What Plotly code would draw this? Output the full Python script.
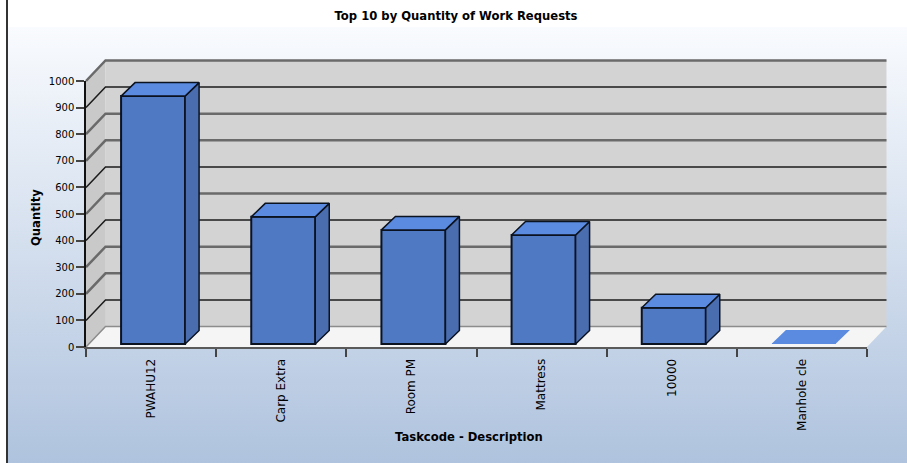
import plotly.graph_objects as go

# Chart data
categories = ["PWAHU12", "Carp Extra", "Room PM", "Mattress", "10000", "Manhole cle"]
quantities = [932, 478, 429, 410, 136, 2]
y_ticks = [0, 100, 200, 300, 400, 500, 600, 700, 800, 900, 1000]
dark_grid = [100, 400, 600, 900]

# Figure size and the front plane of the oblique box, in pixels
W, H = 907, 463
LEFT, RIGHT, BASE, TOP = 86, 867, 347, 81
n = len(categories)
PX_X = (RIGHT - LEFT) / n
PX_Y = (BASE - TOP) / 1000

# Oblique depth offsets, converted from pixels to axis units
WALL_DX, WALL_DY = 19.5 / PX_X, 20.5 / PX_Y
BAR_DX, BAR_DY = 14 / PX_X, 13.5 / PX_Y
BAR_SHIFT_X, BAR_SHIFT_Y = 2 / PX_X, 3 / PX_Y
BAR_WIDTH = 64 / PX_X

FRONT = "#4f79c2"
SIDE = "#4a6db0"
CAP = "#5b8be0"
OUTLINE = "#0b1220"

# The lower full-page subplot shares the scale of the chart axes,
# so the backdrop and walls sit behind the bars in the same units.
page_x = [-LEFT / PX_X, (W - LEFT) / PX_X]
page_y = [-(H - BASE) / PX_Y, BASE / PX_Y]
band_left = (8 - LEFT) / PX_X
border_x = (7 - LEFT) / PX_X
band_top = (BASE - 27) / PX_Y

fig = go.Figure()


def polygon(xs, ys, fill, axes=("x", "y"), line_color=None, line_width=0):
    fig.add_trace(go.Scatter(
        x=xs, y=ys, mode="lines", fill="toself", fillcolor=fill,
        line=dict(color=line_color or fill, width=line_width),
        cliponaxis=False, xaxis=axes[0], yaxis=axes[1],
        hoverinfo="skip", showlegend=False,
    ))


def line(xs, ys, color, width):
    fig.add_trace(go.Scatter(
        x=xs, y=ys, mode="lines", line=dict(color=color, width=width),
        xaxis="x", yaxis="y", hoverinfo="skip", showlegend=False,
    ))


# Page backdrop
fig.add_trace(go.Scatter(
    x=[band_left, page_x[1], page_x[1], band_left, band_left],
    y=[band_top, band_top, page_y[0], page_y[0], band_top],
    mode="none", fill="toself",
    fillgradient=dict(type="vertical", colorscale=[[0, "#afc3de"], [1, "#f9fbfe"]]),
    xaxis="x", yaxis="y", hoverinfo="skip", showlegend=False,
))
line([border_x, border_x], page_y, "#333333", 2)

# Box walls and floor
polygon([0, WALL_DX, WALL_DX, 0, 0],
        [0, WALL_DY, 1000 + WALL_DY, 1000, 0], "#c9c9c9")
polygon([WALL_DX, n + WALL_DX, n + WALL_DX, WALL_DX, WALL_DX],
        [WALL_DY, WALL_DY, 1000 + WALL_DY, 1000 + WALL_DY, WALL_DY], "#d3d3d3")
polygon([0, n, n + WALL_DX, WALL_DX, 0],
        [0, 0, WALL_DY, WALL_DY, 0], "#f5f5f5")

# Gridlines run along the side wall and across the back wall
for tick in y_ticks:
    if tick in dark_grid:
        color, width = "#1c1c1c", 1.5
    elif tick == 0:
        color, width = "#8c8c8c", 1.5
    else:
        color, width = "#6a6a6a", 2.5
    line([0, WALL_DX, n + WALL_DX],
         [tick, tick + WALL_DY, tick + WALL_DY], color, width)

# Front faces of the bars
centers = [i + 0.5 + BAR_SHIFT_X for i in range(n)]
fig.add_trace(go.Bar(
    x=centers, y=quantities, base=BAR_SHIFT_Y, width=BAR_WIDTH,
    customdata=categories,
    marker=dict(
        color=[FRONT] * (n - 1) + [CAP],
        line=dict(color=OUTLINE, width=[2] * (n - 1) + [0]),
    ),
    xaxis="x2", yaxis="y2", cliponaxis=False, showlegend=False,
    hovertemplate="%{customdata}: %{y}<extra></extra>",
))

# Right side and top of each bar
for cx, value in zip(centers, quantities):
    x0, x1 = cx - BAR_WIDTH / 2, cx + BAR_WIDTH / 2
    low, high = BAR_SHIFT_Y, value + BAR_SHIFT_Y
    visible = value > 10
    edge = OUTLINE if visible else CAP
    edge_width = 1.5 if visible else 0
    polygon([x1, x1 + BAR_DX, x1 + BAR_DX, x1, x1],
            [low, low + BAR_DY, high + BAR_DY, high, low],
            SIDE if visible else CAP, ("x2", "y2"), edge, edge_width)
    polygon([x0, x1, x1 + BAR_DX, x0 + BAR_DX, x0],
            [high, high, high + BAR_DY, high + BAR_DY, high],
            CAP, ("x2", "y2"), edge, edge_width)

font = dict(family="DejaVu Sans", size=10, color="#000000")
category_font = dict(family="DejaVu Sans", size=12, color="#000000")
title_font = dict(family="DejaVu Sans", size=11.6, color="#000000")

fig.update_layout(
    width=W, height=H, autosize=False,
    margin=dict(l=0, r=0, t=0, b=0, pad=0, autoexpand=False),
    paper_bgcolor="#ffffff", plot_bgcolor="rgba(0,0,0,0)",
    showlegend=False,
    title=dict(
        text="<b>Top 10 by Quantity of Work Requests</b>",
        x=456 / W, xanchor="center", y=1 - 16 / H, yanchor="middle",
        font=title_font,
    ),
    xaxis=dict(domain=[0, 1], range=page_x, visible=False, fixedrange=True),
    yaxis=dict(domain=[0, 1], range=page_y, visible=False, fixedrange=True),
    xaxis2=dict(
        domain=[LEFT / W, RIGHT / W], range=[0, n], anchor="y2",
        tickmode="array", tickvals=[i + 0.5 for i in range(n)], ticktext=categories,
        tickangle=-90, ticks="", ticklabelstandoff=5, tickfont=category_font, automargin=False,
        showgrid=False, zeroline=False, showline=True, linecolor="#5a5a5a", linewidth=2,
        minor=dict(tickmode="array", tickvals=list(range(n + 1)), ticks="outside",
                   ticklen=8, tickwidth=1.5, tickcolor="#444444", showgrid=False),
    ),
    yaxis2=dict(
        domain=[(H - BASE) / H, (H - TOP) / H], range=[0, 1000], anchor="x2",
        tickmode="array", tickvals=y_ticks, ticks="outside", ticklen=8, tickwidth=1.5,
        tickcolor="#444444", tickfont=font, automargin=False,
        showgrid=False, zeroline=False, showline=True, linecolor="#111111", linewidth=1.5,
    ),
    annotations=[
        dict(text="<b>Quantity</b>", xref="paper", yref="paper", x=36 / W, y=1 - 218 / H,
             xanchor="center", yanchor="middle", textangle=-90, showarrow=False,
             font=title_font),
        dict(text="<b>Taskcode - Description</b>", xref="paper", yref="paper",
             x=469 / W, y=1 - 437 / H, xanchor="center", yanchor="middle",
             showarrow=False, font=title_font),
    ],
)

fig.write_html("out.html", config={"displayModeBar": False})
